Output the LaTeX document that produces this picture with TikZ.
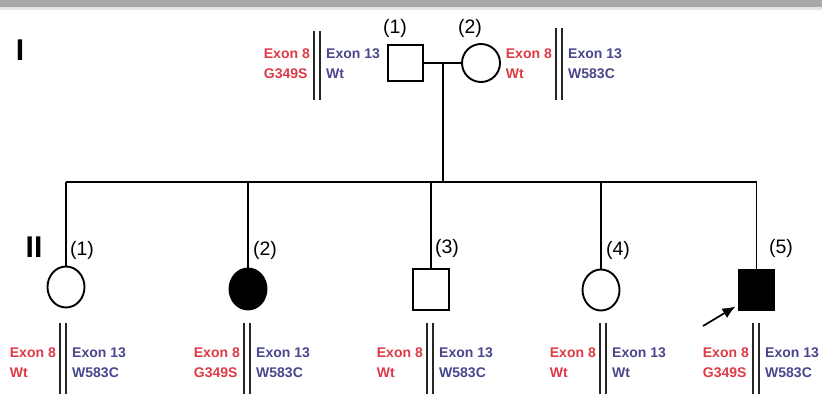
\documentclass[tikz,border=0pt]{standalone}
\usepackage{fontspec}
\setmainfont{Liberation Sans}
\usetikzlibrary{arrows.meta,shapes.geometric}
\definecolor{exred}{RGB}{222,58,70}
\definecolor{exblue}{RGB}{72,70,140}
\definecolor{barg}{RGB}{168,168,168}
\definecolor{barl}{RGB}{228,228,228}
\tikzset{
  person/.style={draw=black, line width=1.9pt, inner sep=0pt, outer sep=0pt},
  maleI/.style={person, rectangle, minimum width=35pt, minimum height=36pt},
  femaleI/.style={person, circle, minimum size=38pt},
  maleII/.style={person, rectangle, minimum width=36pt, minimum height=41pt},
  femaleII/.style={person, ellipse, minimum width=37pt, minimum height=41pt},
  affected/.style={fill=black},
  link/.style={line width=1.7pt, draw=black},
  dline/.style={line width=1.6pt, draw=black!85},
  gennum/.style={font=\fontsize{30}{31}\selectfont\bfseries, inner sep=0pt},
  idlab/.style={font=\fontsize{19.5}{21}\selectfont, inner sep=0pt},
  redt/.style={text=exred, font=\fontsize{14}{16}\selectfont\bfseries, inner sep=0pt},
  bluet/.style={text=exblue, font=\fontsize{14}{16}\selectfont\bfseries, inner sep=0pt},
}
% #1 id, #2 x of double line, #3 top, #4 bottom, #5 first baseline, #6 red1, #7 red2, #8 blue1, #9 blue2
\newcommand{\genoblock}[9]{%
  \draw[dline] (#2-2.9,#3) -- (#2-2.9,#4);
  \draw[dline] (#2+2.9,#3) -- (#2+2.9,#4);
  \node[redt, anchor=base east] (#1r1) at (#2-7,#5) {#6};
  \node[redt, anchor=base west] (#1r2) at ([yshift=-20pt]#1r1.base west) {#7};
  \node[bluet, anchor=base west] (#1b1) at (#2+9,#5) {#8};
  \node[bluet, anchor=base west] (#1b2) at ([yshift=-20pt]#1b1.base west) {#9};
}
\begin{document}
\begin{tikzpicture}[x=1pt, y=-1pt]
\useasboundingbox (0,0) rectangle (822,394);
\fill[barl] (0,0) rectangle (822,10);
\fill[barg] (0,0) rectangle (822,7);

% generation labels
\node[gennum] (genI) at (20,50) {I};
\node[gennum] (genII) at (34,247) {II};

% generation I
\node[maleI] (I1) at (405.5,63) {};
\node[femaleI] (I2) at (481,63) {};
\node[idlab] (I1l) at (395,28) {(1)};
\node[idlab] (I2l) at (470,28) {(2)};
\draw[link] (I1.east) -- (I2.west);
\coordinate (mid) at (443,63);
\coordinate (sib) at (443,182);
\draw[link] (mid) -- (sib);

% generation II
\node[femaleII] (II1) at (66,287) {};
\node[femaleII, affected] (II2) at (248,289) {};
\node[maleII] (II3) at (431,289.5) {};
\node[femaleII] (II4) at (601,290) {};
\node[maleII, affected] (II5) at (756.5,290) {};
\node[idlab] (II1l) at (82,250) {(1)};
\node[idlab] (II2l) at (265,250) {(2)};
\node[idlab] (II3l) at (447,248) {(3)};
\node[idlab] (II4l) at (618,250) {(4)};
\node[idlab] (II5l) at (781,248) {(5)};

\draw[link] (II1.north |- sib) -- (II5.north |- sib);
\foreach \c in {II1,II2,II3,II4,II5} {
  \draw[link] (\c.north |- sib) -- (\c.north);
}

% proband arrow
\coordinate (arrS) at (703,326);
\draw[line width=1.7pt, -{Latex[length=13pt,width=11pt]}] (arrS) -- ([shift={(-3,-4)}]II5.south west);

% genotypes
\genoblock{gI1}{317}{31}{100}{58}{Exon 8}{G349S}{Exon 13}{Wt}
\genoblock{gI2}{559}{28}{100}{58}{Exon 8}{Wt}{Exon 13}{W583C}
\genoblock{gII1}{63}{323}{394}{357}{Exon 8}{Wt}{Exon 13}{W583C}
\genoblock{gII2}{247}{323}{394}{357}{Exon 8}{G349S}{Exon 13}{W583C}
\genoblock{gII3}{430}{323}{394}{357}{Exon 8}{Wt}{Exon 13}{W583C}
\genoblock{gII4}{603}{323}{394}{357}{Exon 8}{Wt}{Exon 13}{Wt}
\genoblock{gII5}{756}{323}{394}{357}{Exon 8}{G349S}{Exon 13}{W583C}
\end{tikzpicture}
\end{document}
